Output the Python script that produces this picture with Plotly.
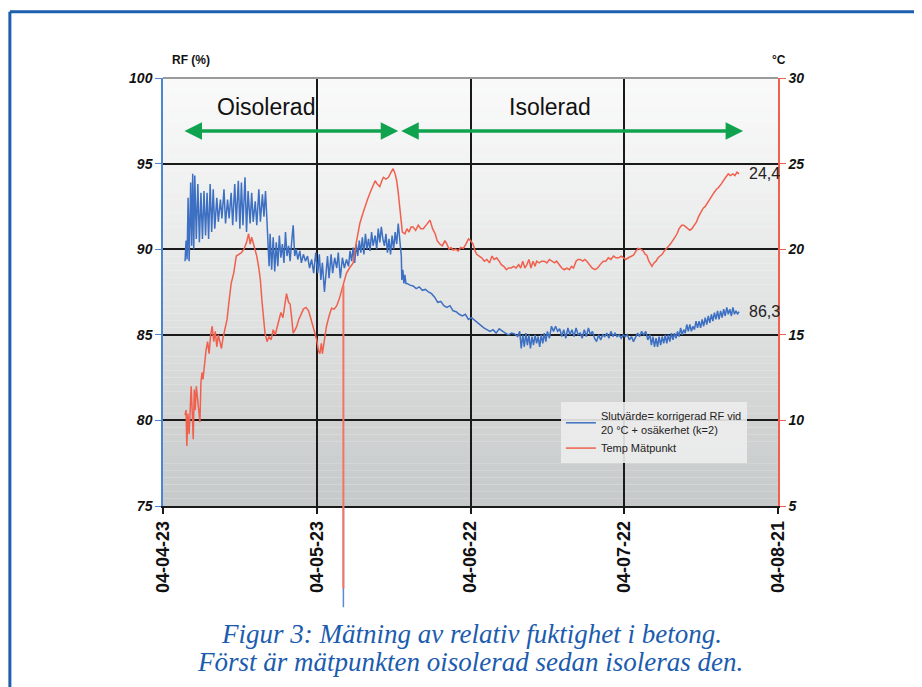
import pandas as pd
import plotly.graph_objects as go

# ---------------- data ----------------
start_date = "2004-04-23"
tick_vals = ["2004-04-23", "2004-05-23", "2004-06-22", "2004-07-22", "2004-08-21"]
tick_text = ["04-04-23", "04-05-23", "04-06-22", "04-07-22", "04-08-21"]

rf_days = [
    4.3, 4.5, 4.7, 4.9, 5.1, 5.4, 5.6, 5.8, 6.0, 6.2, 6.5, 6.8, 7.1, 7.4, 7.7, 8.0, 8.3, 8.6, 8.9, 9.2,
    9.5, 9.8, 10.1, 10.5, 10.8, 11.2, 11.5, 11.9, 12.2, 12.6, 12.9, 13.3, 13.6, 14.0, 14.3, 14.7, 15.0,
    15.3, 15.6, 16.0, 16.3, 16.6, 17.0, 17.3, 17.6, 18.0, 18.3, 18.7, 19.0, 19.4, 19.7, 20.0, 20.2,
    20.4, 20.7, 20.9, 21.2, 21.5, 21.8, 22.1, 22.4, 22.7, 23.0, 23.3, 23.6, 23.9, 24.2, 24.5, 24.8,
    25.1, 25.4, 25.7, 26.0, 26.3, 26.7, 27.0, 27.4, 27.8, 28.2, 28.6, 29.0, 29.4, 29.8,
    30.2, 30.5, 30.8, 31.1, 31.5, 31.8, 32.1, 32.4, 32.8, 33.1, 33.5, 33.9, 34.2, 34.6, 35.0, 35.4, 35.8,
    36.2, 36.5, 36.8, 37.1, 37.4, 37.7, 38.0, 38.3, 38.6, 38.9, 39.2, 39.5, 39.8, 40.1, 40.4, 40.7,
    41.0, 41.4, 41.7, 42.0, 42.3, 42.6, 42.9, 43.2, 43.5, 43.8, 44.1, 44.4, 44.7, 45.0, 45.3, 45.6,
    45.9, 46.2, 46.5, 46.6, 46.8, 47.0, 47.2, 47.4,
    47.6, 48.2, 48.8, 49.4, 50.0, 50.6, 51.2, 51.8, 52.4, 53.0, 53.6, 54.2, 54.8, 55.4, 56.0, 56.6,
    57.2, 57.8, 58.4, 59.0, 59.6, 60.2, 60.8, 61.4, 62.0, 62.6, 63.2, 63.8, 64.4, 65.0, 65.6, 66.2,
    66.8, 67.4, 68.0, 68.6, 69.2, 69.6, 69.9, 70.2, 70.5, 70.8, 71.1, 71.4, 71.7, 72.0, 72.3, 72.6,
    72.9, 73.2, 73.5, 73.8, 74.1, 74.4, 74.7, 75.0, 75.4, 75.8, 76.2, 76.6, 77.0, 77.4, 77.8, 78.2,
    78.6, 79.0, 79.4, 79.8, 80.2, 80.6, 81.0, 81.4, 81.8, 82.2, 82.6, 83.0, 83.4, 83.8, 84.2, 84.6,
    85.0, 85.4, 85.8, 86.2, 86.6, 87.0, 87.4, 87.8, 88.2, 88.6, 89.0, 89.4, 89.8, 90.2, 90.6, 91.0,
    91.4, 91.8, 92.2, 92.6, 93.0, 93.4, 93.8, 94.2, 94.6, 95.0, 95.3, 95.6, 95.9, 96.2, 96.5, 96.8,
    97.1, 97.4, 97.7, 98.0, 98.3, 98.6, 98.9, 99.2, 99.5, 99.8, 100.1, 100.4, 100.7, 101.0, 101.3,
    101.6, 101.9, 102.2, 102.5, 102.8, 103.1, 103.4, 103.7, 104.0, 104.3, 104.6, 104.9, 105.2, 105.5,
    105.8, 106.1, 106.4, 106.7, 107.0, 107.3, 107.6, 107.9, 108.2, 108.5, 108.8, 109.1, 109.4, 109.7,
    110.0, 110.3, 110.6, 110.9, 111.2, 111.5, 111.8, 112.1, 112.4,
]
rf_values = [
    89.3, 90.5, 89.4, 93.0, 89.3, 93.9, 90.2, 94.4, 90.0, 94.3, 90.6, 93.8, 90.4, 93.3, 90.6, 93.4, 90.8, 93.3, 90.6, 93.8,
    91.0, 93.5, 91.2, 93.0, 91.6, 92.9, 91.8, 93.5, 91.5, 92.9, 91.8, 93.3, 91.4, 93.8, 91.6, 94.0, 91.2,
    93.9, 91.4, 94.2, 91.0, 93.4, 91.5, 93.3, 91.6, 92.8, 91.4, 93.5, 91.6, 93.2, 91.9, 93.4, 92.2,
    90.6, 89.0, 90.9, 88.8, 90.7, 88.7, 90.4, 89.0, 90.8, 89.5, 90.3, 89.2, 91.0, 89.6, 90.2, 89.3,
    90.4, 91.4, 89.6, 90.0, 89.4, 89.9, 89.2, 89.7, 89.3, 89.6, 88.9, 89.4, 88.6, 89.8,
    88.6, 89.7, 88.2, 89.2, 87.5, 88.7, 89.6, 88.3, 89.7, 88.6, 89.5, 88.9, 89.8, 88.3, 89.5, 88.9, 89.4,
    89.0, 89.9, 89.3, 90.1, 89.2, 90.3, 89.6, 90.5, 89.8, 90.7, 89.7, 90.9, 90.0, 90.6, 89.9, 91.0,
    90.2, 90.8, 90.0, 91.2, 90.4, 91.3, 90.6, 90.2, 90.9, 89.8, 90.6, 89.7, 90.8, 90.0, 91.0, 90.3,
    91.5, 90.4, 89.6, 88.2, 88.8, 88.0, 88.5, 88.0,
    88.0, 87.9, 87.85, 87.7, 87.8, 87.6, 87.65, 87.5, 87.4, 87.2, 86.9, 86.95, 86.7, 86.6, 86.7, 86.4,
    86.35, 86.2, 86.1, 86.2, 85.9, 86.0, 85.85, 85.7, 85.5, 85.4, 85.3, 85.2, 85.3, 85.1, 85.35, 85.2,
    85.1, 85.0, 85.1, 85.05, 84.9, 85.2, 84.2, 85.0, 84.3, 85.1, 84.4, 85.0, 84.2, 84.9, 84.4, 85.0,
    84.5, 84.9, 84.3, 85.0, 84.5, 85.1, 84.6, 85.2, 84.8, 85.5, 85.2, 85.5, 85.2, 85.35, 84.9, 85.3,
    84.8, 85.4, 85.0, 85.3, 84.9, 85.4, 85.0, 85.1, 84.8, 85.3, 84.9, 85.4, 85.0, 85.2, 84.8, 84.6,
    85.0, 84.7, 85.0, 84.9, 85.1, 84.8, 85.2, 84.9, 85.1, 84.9, 85.0, 84.8, 85.0, 84.9, 85.0, 84.7,
    84.9, 84.6, 84.9, 85.1, 84.9, 85.2, 85.0, 85.2, 84.7, 85.0, 84.4, 84.9, 84.3, 84.8, 84.3, 84.9,
    84.4, 84.9, 84.5, 85.0, 84.5, 85.0, 84.6, 85.1, 84.7, 85.1, 84.8, 85.2, 84.9, 85.4, 85.0,
    85.3, 85.1, 85.6, 85.2, 85.6, 85.2, 85.5, 85.3, 85.8, 85.4, 85.8, 85.4, 85.9, 85.5,
    86.0, 85.6, 86.1, 85.7, 86.2, 85.8, 86.3, 85.9, 86.4, 85.9, 86.4, 86.0, 86.5, 86.1,
    86.6, 86.2, 86.5, 86.1, 86.6, 86.2, 86.4, 86.2, 86.35,
]

temp_days = [
    4.3, 4.5, 4.65, 4.85, 5.1, 5.3, 5.5, 5.7, 5.9, 6.1, 6.3, 6.5, 6.8, 7.0, 7.2, 7.4, 7.6, 7.8, 8.0, 8.2,
    8.4, 8.7, 9.0, 9.3, 9.6, 9.9, 10.2, 10.5, 10.8, 11.1, 11.4, 11.7, 12.0, 12.5, 12.9, 13.3, 13.8,
    14.3, 14.8, 15.3, 15.8, 16.3, 16.7, 17.0, 17.3, 17.7, 18.0, 18.3, 18.7, 19.0, 19.3, 19.6, 19.9,
    20.3, 20.7, 21.1, 21.5, 21.9, 22.3, 22.7, 23.0, 23.4, 23.8, 24.1, 24.5, 24.8, 25.1, 25.4, 25.8,
    26.1, 26.5, 26.9, 27.4, 27.9, 28.4, 28.8, 29.3, 29.7, 30.0, 30.3, 30.6, 30.9, 31.1, 31.3, 31.6,
    31.9, 32.4, 32.9, 33.4, 33.9, 34.4, 34.9, 35.2, 35.8, 36.4, 37.1, 37.6, 38.0, 38.4, 38.9, 39.4,
    39.9, 40.4, 40.9, 41.4, 41.8, 42.3, 42.7, 43.0, 43.5, 44.0, 44.5, 44.9, 45.3, 45.6, 45.9, 46.2,
    46.5, 46.7, 47.2, 47.6, 48.0, 48.4, 48.8, 49.3, 49.8, 50.3, 50.8, 51.3, 51.7, 52.1, 52.6, 53.1,
    53.5, 54.0, 54.5, 55.0, 55.4, 55.8, 56.2, 56.6, 57.1, 57.6, 58.1, 58.6, 59.1, 59.6, 60.0, 60.5,
    60.9, 61.2, 61.7, 62.2, 62.7, 63.2, 63.7, 64.2, 64.6, 65.1, 65.6, 66.0, 66.5, 67.0, 67.4, 67.9,
    68.4, 68.9, 69.4, 69.8, 70.2, 70.6, 71.0, 71.4, 71.8, 72.2, 72.6, 72.9, 73.4, 73.9, 74.4, 74.9,
    75.4, 75.9, 76.4, 76.8, 77.3, 77.8, 78.3, 78.8, 79.3, 79.7, 80.1, 80.6, 81.0, 81.4, 81.9, 82.3,
    82.7, 83.2, 83.7, 84.3, 84.8, 85.3, 85.9, 86.4, 86.9, 87.4, 87.9, 88.4, 88.9, 89.4, 89.8, 90.3,
    90.8, 91.3, 91.8, 92.3, 92.7, 93.2, 93.7, 94.1, 94.4, 94.8, 95.1, 95.4, 95.8, 96.2, 96.6, 97.0,
    97.4, 97.8, 98.2, 98.6, 99.0, 99.5, 99.9, 100.3, 100.7, 101.2, 101.6, 102.0, 102.4, 102.8, 103.2,
    103.7, 104.1, 104.5, 105.0, 105.4, 105.8, 106.2, 106.7, 107.1, 107.5, 108.0, 108.4, 108.9, 109.3,
    109.8, 110.3, 110.7, 111.2, 111.6, 112.0, 112.4,
]
temp_values = [
    10.3, 10.6, 8.5, 10.4, 9.2, 11.0, 12.0, 10.5, 8.9, 11.8, 10.6, 12.0, 11.0, 10.5, 9.9, 12.2, 12.8, 12.4, 13.0, 13.5,
    14.1, 14.6, 13.9, 15.0, 15.5, 14.6, 15.2, 14.3, 15.0, 14.6, 14.2, 14.8, 15.2, 15.9, 17.0, 18.0, 18.6,
    19.6, 19.7, 19.8, 20.0, 20.4, 20.9, 20.3, 20.7, 20.2, 19.9, 19.6, 18.9, 18.2, 17.0, 15.8, 15.1,
    14.6, 14.9, 14.7, 15.3, 15.0, 15.5, 16.0, 16.3, 16.0, 16.7, 17.4, 16.9, 16.8, 16.0, 15.1, 15.3,
    15.5, 15.9, 16.2, 16.5, 16.6, 16.4, 16.0, 15.5, 15.0, 14.7, 14.1, 13.9, 14.5, 13.9, 14.3, 14.9,
    15.5, 16.1, 16.55, 16.5, 16.7, 17.1, 17.6, 17.9, 18.6, 18.9, 19.2, 20.2, 20.9, 21.5, 22.0, 22.5,
    22.9, 23.3, 23.7, 24.0, 23.8, 23.65, 24.0, 24.2, 24.1, 24.2, 24.5, 24.7, 24.4, 24.0, 23.3, 22.5,
    21.6, 21.0, 20.9, 21.2, 21.0, 21.3, 21.3, 21.1, 21.4, 21.2, 21.2, 21.4, 21.6, 21.7, 21.2, 20.9,
    20.5, 20.3, 20.2, 20.5, 20.3, 20.0, 20.1, 19.95, 20.0, 19.9, 20.1, 20.05, 20.3, 20.6, 20.5, 20.3,
    19.9, 19.7, 19.6, 19.5, 19.3, 19.4, 19.2, 19.6, 19.4, 19.5, 19.3, 19.1, 19.0, 18.8, 18.9, 18.9,
    19.0, 18.9, 19.1, 18.9, 19.3, 18.9, 19.1, 19.4, 18.9, 19.3, 19.0, 19.3, 19.2, 19.3, 19.3, 19.2,
    19.4, 19.3, 19.2, 19.3, 19.1, 18.9, 18.8, 18.9, 18.8, 19.0, 18.9, 19.3, 19.4, 19.4, 19.3, 19.4,
    19.3, 19.1, 18.9, 18.8, 18.9, 19.1, 19.3, 19.3, 19.5, 19.4, 19.6, 19.5, 19.5, 19.6, 19.5, 19.4,
    19.5, 19.6, 19.65, 19.9, 20.05, 20.0, 19.9, 19.7, 19.65, 19.3, 19.1, 19.0, 19.2, 19.3, 19.5, 19.6,
    19.7, 19.9, 20.0, 20.15, 20.3, 20.5, 20.7, 20.9, 21.2, 21.4, 21.4, 21.3, 21.2, 21.1, 21.2,
    21.4, 21.6, 21.9, 22.2, 22.4, 22.5, 22.7, 22.9, 23.1, 23.3, 23.5, 23.6, 23.8, 24.0,
    24.2, 24.4, 24.3, 24.4, 24.3, 24.5, 24.4,
]

# measurement glitch (vertical spike seen in the original)
glitch_day = 35.2
glitch_rf_from, glitch_rf_to = 75.0, 69.0
glitch_temp_from, glitch_temp_to = 17.9, 0.1

end_rf_label = "86,3"
end_temp_label = "24,4"
phase_labels = ["Oisolerad", "Isolerad"]
phase_text_days = [20.0, 75.5]
phase_arrow_days = [(3.9, 45.9), (46.2, 113.2)]
phase_arrow_rf = 96.9
phase_text_rf = 98.3

series_names = ["Slutvärde= korrigerad RF vid<br>20 °C + osäkerhet (k=2)", "Temp Mätpunkt"]

# ---------------- figure ----------------
t0 = pd.Timestamp(start_date)
def to_date(days):
    return [t0 + pd.Timedelta(days=d) for d in days]

rf_x = to_date(rf_days)
temp_x = to_date(temp_days)
glitch_x = t0 + pd.Timedelta(days=glitch_day)

BLUE = "#3d70c2"
RED = "#f0604e"
GREEN = "#0fa34f"
FRAME = "#1d5eaf"

fig = go.Figure()
fig.add_trace(go.Scatter(x=rf_x, y=rf_values, mode="lines", name=series_names[0],
                         line=dict(color=BLUE, width=1.5), yaxis="y"))
fig.add_trace(go.Scatter(x=temp_x, y=temp_values, mode="lines", name=series_names[1],
                         line=dict(color=RED, width=1.5), yaxis="y2"))

# gradient background (bands)
shapes = []
nb = 60
top = (249, 249, 249)
bot = (197, 200, 200)
for i in range(nb):
    t = (i + 0.5) / nb
    f = t ** 1.25
    c = tuple(int(round(top[k] + (bot[k] - top[k]) * f)) for k in range(3))
    shapes.append(dict(type="rect", xref="paper", yref="paper", x0=0, x1=1,
                       y0=1 - (i + 1) / nb, y1=1 - i / nb, line=dict(width=0),
                       fillcolor="rgb(%d,%d,%d)" % c, layer="below"))
# top border of plot (gray)
shapes.append(dict(type="line", xref="paper", yref="paper", x0=0, x1=1, y0=1, y1=1,
                   line=dict(color="#9a9a9a", width=2)))
# outer frame (left + top)
shapes.append(dict(type="line", xref="paper", yref="paper", x0=-0.249, x1=-0.249, y0=1.155, y1=-0.45,
                   line=dict(color=FRAME, width=3)))
shapes.append(dict(type="line", xref="paper", yref="paper", x0=-0.249, x1=1.3, y0=1.155, y1=1.155,
                   line=dict(color=FRAME, width=3)))

annotations = []
# glitch spikes (not clipped): blue part first, red drawn over it
annotations.append(dict(x=glitch_x, y=glitch_rf_from, xref="x", yref="y", ax=glitch_x, ay=glitch_rf_to,
                        axref="x", ayref="y", text="", showarrow=True, arrowhead=0,
                        arrowwidth=1.5, arrowcolor="#5b8ad0", standoff=0, startstandoff=0))
annotations.append(dict(x=glitch_x, y=glitch_temp_from, xref="x", yref="y2", ax=glitch_x, ay=glitch_temp_to,
                        axref="x", ayref="y2", text="", showarrow=True, arrowhead=0,
                        arrowwidth=2, arrowcolor="#f27563", standoff=0, startstandoff=0))
# phase arrows
for (d0, d1) in phase_arrow_days:
    annotations.append(dict(x=t0 + pd.Timedelta(days=d1), y=phase_arrow_rf, xref="x", yref="y",
                            ax=t0 + pd.Timedelta(days=d0), ay=phase_arrow_rf, axref="x", ayref="y",
                            text="", showarrow=True, arrowhead=2, startarrowhead=2,
                            arrowside="end+start", arrowsize=1.0, startarrowsize=1.0,
                            arrowwidth=3.5, arrowcolor=GREEN, standoff=0, startstandoff=0))
for lab, d in zip(phase_labels, phase_text_days):
    annotations.append(dict(x=t0 + pd.Timedelta(days=d), y=phase_text_rf, xref="x", yref="y",
                            text=lab, showarrow=False,
                            font=dict(family="Liberation Sans, Arial", size=23, color="#111")))
# end labels
annotations.append(dict(x=rf_x[-1], y=rf_values[-1], xref="x", yref="y", text=end_rf_label,
                        showarrow=False, xanchor="left", xshift=8,
                        font=dict(family="Liberation Sans, Arial", size=16, color="#222")))
annotations.append(dict(x=temp_x[-1], y=temp_values[-1], xref="x", yref="y2", text=end_temp_label,
                        showarrow=False, xanchor="left", xshift=8,
                        font=dict(family="Liberation Sans, Arial", size=16, color="#222")))
# axis titles
annotations.append(dict(x=0.011, y=1.042, xref="paper", yref="paper", text="<b>RF (%)</b>",
                        showarrow=False, xanchor="left", yanchor="middle",
                        font=dict(family="Liberation Sans, Arial", size=12, color="#111")))
annotations.append(dict(x=1.002, y=1.042, xref="paper", yref="paper", text="<b>°C</b>",
                        showarrow=False, xanchor="center", yanchor="middle",
                        font=dict(family="Liberation Sans, Arial", size=12, color="#111")))
# caption
cap_font = dict(family="Liberation Serif, Times New Roman, serif", size=27, color="#1b5cae", style="italic")
annotations.append(dict(x=0.502, y=-0.298, xref="paper", yref="paper",
                        text="Figur 3: Mätning av relativ fuktighet i betong.",
                        showarrow=False, xanchor="center", yanchor="middle", font=cap_font))
annotations.append(dict(x=0.499, y=-0.364, xref="paper", yref="paper",
                        text="Först är mätpunkten oisolerad sedan isoleras den.",
                        showarrow=False, xanchor="center", yanchor="middle", font=cap_font))

tick_font = dict(family="Liberation Sans, Arial", size=14, color="#111", weight="bold", style="italic")

# the page body has an 8px default margin: the figure is shifted accordingly
fig.update_layout(
    width=914, height=679,
    margin=dict(l=155, r=144, t=70, b=181),
    paper_bgcolor="white",
    plot_bgcolor="rgb(249,249,249)",
    showlegend=True,
    legend=dict(x=0.647, y=0.243, xanchor="left", yanchor="top",
                bgcolor="rgba(236,236,236,0.9)", borderwidth=0,
                font=dict(family="Liberation Sans, Arial", size=11, color="#222"),
                itemwidth=30, tracegroupgap=2),
    xaxis=dict(type="date", range=[tick_vals[0], tick_vals[-1]],
               tickmode="array", tickvals=tick_vals, ticktext=tick_text, tickangle=-90,
               tickfont=dict(family="Liberation Sans, Arial", size=18, color="#111", weight="bold"),
               showgrid=True, gridcolor="#1a1a1a", gridwidth=1.5,
               showline=True, linecolor="#1a1a1a", linewidth=1.5,
               ticks="outside", ticklen=6, tickcolor="#1a1a1a", tickwidth=1.5,
               ticklabelstandoff=0, zeroline=False),
    yaxis=dict(range=[75, 100], tickmode="array", tickvals=[75, 80, 85, 90, 95, 100],
               tickfont=tick_font, showgrid=True, gridcolor="#1a1a1a", gridwidth=1.5,
               showline=True, linecolor="#4a86d2", linewidth=1.5,
               ticks="outside", ticklen=6, tickcolor="#4a86d2", zeroline=False),
    yaxis2=dict(range=[5, 30], tickmode="array", tickvals=[5, 10, 15, 20, 25, 30],
                overlaying="y", side="right", tickfont=tick_font, showgrid=False,
                showline=True, linecolor=RED, linewidth=1.5,
                ticks="outside", ticklen=6, tickcolor=RED, zeroline=False),
    shapes=shapes,
    annotations=annotations,
)

fig.write_html("out.html")
